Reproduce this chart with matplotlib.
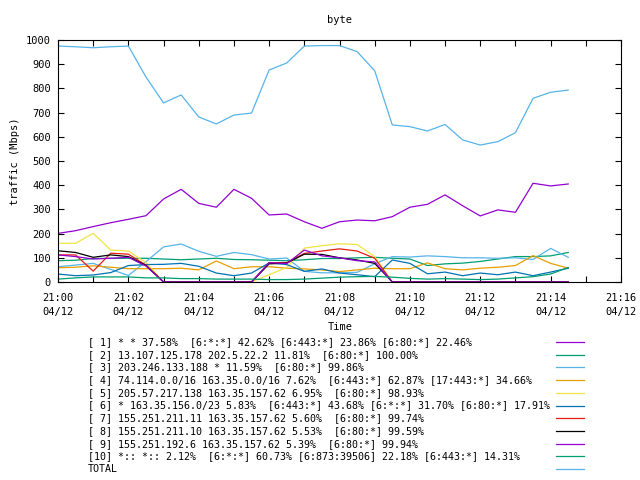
import numpy as np
import matplotlib
matplotlib.use('Agg')
import matplotlib.pyplot as plt
from matplotlib.lines import Line2D

# samples every 30 s from 21:00 (minutes after 21:00)
minutes = np.arange(30) * 0.5

s1 = [201, 212, 229, 245, 259, 274, 343, 383, 325, 309, 383, 346, 277, 281, 249,
      222, 249, 256, 253, 270, 309, 321, 360, 315, 273, 298, 288, 408, 397, 405]
s2 = [88, 90, 97, 98, 98, 98, 95, 92, 95, 98, 93, 92, 90, 88, 92,
      97, 97, 100, 102, 98, 95, 68, 75, 78, 85, 95, 105, 105, 108, 122]
s3 = [63, 70, 77, 52, 27, 84, 145, 157, 127, 106, 122, 113, 95, 99, 44,
      38, 38, 40, 75, 105, 103, 108, 105, 100, 100, 98, 100, 93, 139, 102]
s4 = [59, 61, 67, 61, 55, 55, 55, 57, 50, 87, 55, 63, 63, 57, 54,
      50, 43, 50, 57, 55, 55, 79, 55, 50, 57, 61, 68, 109, 77, 57]
s5 = [160, 160, 201, 132, 128, 80, 0, 0, 0, 0, 0, 0, 30, 60, 140,
      150, 158, 155, 105, 0, 0, 0, 0, 0, 0, 0, 0, 0, 0, 0]
s6 = [33, 26, 29, 39, 68, 72, 73, 77, 65, 37, 26, 37, 79, 72, 44,
      54, 37, 30, 22, 91, 77, 34, 41, 26, 37, 30, 41, 26, 41, 57]
s7 = [112, 112, 45, 119, 115, 70, 0, 0, 0, 0, 0, 0, 80, 80, 118,
      128, 137, 128, 98, 0, 0, 0, 0, 0, 0, 0, 0, 0, 0, 0]
s8 = [129, 122, 102, 112, 105, 68, 0, 0, 0, 0, 0, 0, 75, 78, 115,
      114, 100, 91, 77, 0, 0, 0, 0, 0, 0, 0, 0, 0, 0, 0]
s9 = [112, 105, 95, 98, 102, 66, 0, 0, 0, 0, 0, 0, 80, 76, 132,
      108, 100, 88, 83, 0, 0, 0, 0, 0, 0, 0, 0, 0, 0, 0]
s10 = [12, 17, 21, 21, 21, 17, 17, 14, 14, 12, 12, 12, 10, 10, 12,
       16, 20, 22, 23, 20, 15, 12, 14, 12, 10, 12, 17, 22, 33, 60]
total = [975, 972, 968, 972, 975, 847, 740, 773, 682, 653, 690, 698, 876, 905, 975,
         977, 977, 952, 873, 649, 642, 624, 651, 587, 566, 580, 617, 759, 784, 793]

labels = [
    '[ 1] * * 37.58%  [6:*:*] 42.62% [6:443:*] 23.86% [6:80:*] 22.46%',
    '[ 2] 13.107.125.178 202.5.22.2 11.81%  [6:80:*] 100.00%',
    '[ 3] 203.246.133.188 * 11.59%  [6:80:*] 99.86%',
    '[ 4] 74.114.0.0/16 163.35.0.0/16 7.62%  [6:443:*] 62.87% [17:443:*] 34.66%',
    '[ 5] 205.57.217.138 163.35.157.62 6.95%  [6:80:*] 98.93%',
    '[ 6] * 163.35.156.0/23 5.83%  [6:443:*] 43.68% [6:*:*] 31.70% [6:80:*] 17.91%',
    '[ 7] 155.251.211.11 163.35.157.62 5.60%  [6:80:*] 99.74%',
    '[ 8] 155.251.211.10 163.35.157.62 5.53%  [6:80:*] 99.59%',
    '[ 9] 155.251.192.6 163.35.157.62 5.39%  [6:80:*] 99.94%',
    '[10] *:: *:: 2.12%  [6:*:*] 60.73% [6:873:39506] 22.18% [6:443:*] 14.31%',
    'TOTAL',
]
series = [s1, s2, s3, s4, s5, s6, s7, s8, s9, s10, total]
colours = ['#9400d3', '#009e73', '#56b4e9', '#e69f00', '#f0e442', '#0072b2',
           '#e51e10', '#000000', '#9400d3', '#009e73', '#56b4e9']

tick_min = np.arange(0, 17)
tick_lab = ['21:%02d\n04/12' % m if m % 2 == 0 else '' for m in tick_min]

plt.rcParams['font.family'] = 'DejaVu Sans Mono'
plt.rcParams['font.size'] = 7

fig = plt.figure(figsize=(6.4, 4.8), dpi=100, facecolor='white')
ax = fig.add_axes([58 / 640, 1 - 282 / 480, 563 / 640, 242 / 480])

for ys, c in zip(series, colours):
    ax.plot(minutes, ys, color=c, lw=0.9)

ax.set_xlim(0, 16)
ax.set_ylim(0, 1000)
ax.set_xticks(tick_min)
ax.set_xticklabels(tick_lab, linespacing=1.45)
ax.set_yticks(np.arange(0, 1001, 100))
ax.tick_params(direction='in', length=4, width=0.8, top=True, right=True,
               labelsize=7.5, pad=5)
ax.tick_params(axis='x', pad=8)
for sp in ax.spines.values():
    sp.set_linewidth(0.8)

fig.text(340 / 640, 1 - 20 / 480, 'byte', ha='center', va='center', fontsize=7.5)
fig.text(15 / 640, 1 - 161 / 480, 'traffic (Mbps)', ha='center', va='center',
         rotation=90, fontsize=7.5)
fig.text(340 / 640, 1 - 327 / 480, 'Time', ha='center', va='center', fontsize=7.5)

# legend below the plot
for k, (lab, c) in enumerate(zip(labels, colours)):
    y = 1 - (342 + k * 12.7) / 480
    fig.text(88 / 640, y, lab, ha='left', va='center', fontsize=7.2)
    fig.add_artist(Line2D([556 / 640, 584 / 640], [y, y], color=c, lw=0.9,
                          transform=fig.transFigure))

fig.savefig('out.png', dpi=100)
